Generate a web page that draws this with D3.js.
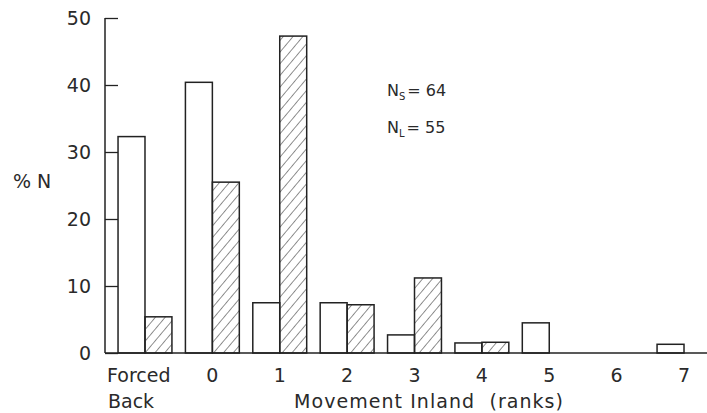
<!DOCTYPE html>
<html>
<head>
<meta charset="utf-8">
<script src="https://cdn.jsdelivr.net/npm/d3@7"></script>
<style>
  body { margin: 0; background: #fff; }
  text { font-family: "DejaVu Sans", sans-serif; fill: #2a2a2a; }
</style>
</head>
<body>
<div id="chart"></div>
<script>
// categories on the x axis
var categories = ["Forced Back", "0", "1", "2", "3", "4", "5", "6", "7"];
var tickLabels = ["Forced", "0", "1", "2", "3", "4", "5", "6", "7"];
// % N for each group (white = S, hatched = L)
var valuesS = [32.3, 40.4, 7.5, 7.5, 2.7, 1.5, 4.5, 0, 1.3];
var valuesL = [5.4, 25.5, 47.3, 7.2, 11.2, 1.6, 0, 0, 0];
var yTicks = [0, 10, 20, 30, 40, 50];

var W = 707, H = 413;
var svg = d3.select("#chart").append("svg")
    .attr("width", W)
    .attr("height", H);

// hatch pattern
var defs = svg.append("defs");
defs.append("pattern")
    .attr("id", "hatch")
    .attr("patternUnits", "userSpaceOnUse")
    .attr("width", 7.5)
    .attr("height", 8)
    .attr("patternTransform", "rotate(40)")
  .append("line")
    .attr("x1", 0).attr("y1", 0)
    .attr("x2", 0).attr("y2", 8)
    .attr("stroke", "#444")
    .attr("stroke-width", 1.2);

var axisX = 105, base = 353;

var x = d3.scaleBand()
    .domain(categories)
    .range([111.3, 717.7])
    .padding(0);

var sub = d3.scaleBand()
    .domain(["S", "L"])
    .range([0, x.bandwidth()])
    .paddingInner(0)
    .paddingOuter(0.25);

var y = d3.scaleLinear()
    .domain([0, 50])
    .range([base, 18]);

var data = categories.map(function(c, i) {
  return [{cat: c, key: "S", v: valuesS[i]}, {cat: c, key: "L", v: valuesL[i]}];
});
var flat = [].concat.apply([], data).filter(function(d) { return d.v > 0; });

// bars
svg.selectAll("rect.bar")
  .data(flat)
  .enter()
  .append("rect")
    .attr("class", "bar")
    .attr("x", function(d) { return x(d.cat) + sub(d.key); })
    .attr("y", function(d) { return y(d.v); })
    .attr("width", sub.bandwidth())
    .attr("height", function(d) { return base - y(d.v); })
    .attr("fill", function(d) { return d.key == "S" ? "#fff" : "url(#hatch)"; })
    .attr("stroke", "#222")
    .attr("stroke-width", 1.5);

// y axis (ticks pointing inward)
var yAxis = svg.append("g")
    .attr("transform", "translate(" + axisX + ",0)")
    .call(d3.axisRight(y).tickValues(yTicks).tickSize(13).tickFormat(""));
yAxis.select(".domain").remove();
yAxis.selectAll("line").attr("stroke", "#222").attr("stroke-width", 1.3);
svg.append("line")
    .attr("x1", axisX).attr("x2", axisX)
    .attr("y1", y(50)).attr("y2", base)
    .attr("stroke", "#222").attr("stroke-width", 1.5);

svg.selectAll("text.ytick")
  .data(yTicks)
  .enter()
  .append("text")
    .attr("class", "ytick")
    .attr("x", 91)
    .attr("y", function(d) { return y(d) + 7; })
    .attr("text-anchor", "end")
    .style("font-size", "19px")
    .text(function(d) { return d; });

// x axis line
svg.append("line")
    .attr("x1", axisX).attr("x2", W)
    .attr("y1", base).attr("y2", base)
    .attr("stroke", "#222").attr("stroke-width", 1.5);

// x tick labels
svg.selectAll("text.xtick")
  .data(categories)
  .enter()
  .append("text")
    .attr("class", "xtick")
    .attr("x", function(d, i) { return i == 0 ? 107 : x(d) + sub("L"); })
    .attr("y", 382)
    .attr("text-anchor", function(d, i) { return i == 0 ? "start" : "middle"; })
    .style("font-size", "19px")
    .text(function(d, i) { return tickLabels[i]; });

svg.append("text")
    .attr("x", 108)
    .attr("y", 408)
    .style("font-size", "19px")
    .text("Back");

svg.append("text")
    .attr("x", 294)
    .attr("y", 408)
    .attr("textLength", 269)
    .attr("lengthAdjust", "spacing")
    .style("font-size", "19px")
    .style("white-space", "pre")
    .text("Movement Inland  (ranks)");

// y title
svg.append("text")
    .attr("x", 13)
    .attr("y", 188)
    .style("font-size", "19px")
    .text("% N");

// sample sizes
var ns = [{m: "S", v: "64", y: 96}, {m: "L", v: "55", y: 133}];
ns.forEach(function(d) {
  var t = svg.append("text")
      .attr("x", 387)
      .attr("y", d.y)
      .style("font-size", "16px");
  t.append("tspan").text("N");
  t.append("tspan").attr("dy", 4).style("font-size", "10px").text(d.m);
  t.append("tspan").attr("dy", -4).attr("dx", 2).text("= " + d.v);
});
</script>
</body>
</html>
